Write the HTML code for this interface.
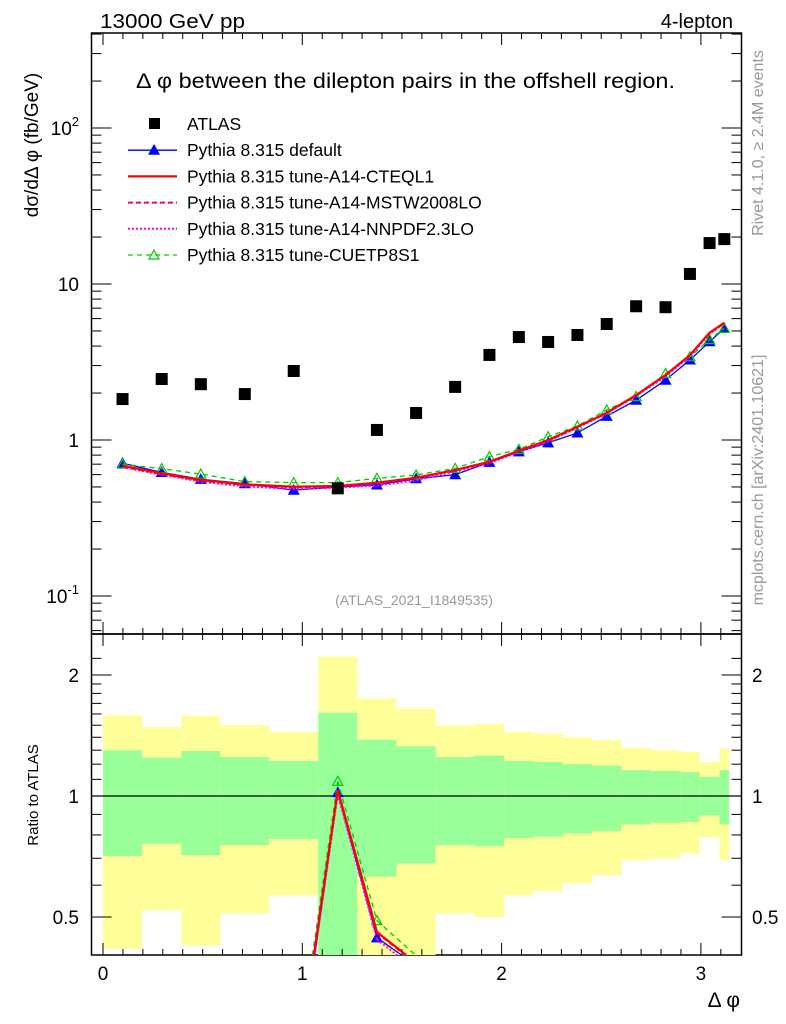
<!DOCTYPE html>
<html><head><meta charset="utf-8"><style>
html,body{margin:0;padding:0;background:#fff;width:786px;height:1024px;overflow:hidden;}
svg{display:block;font-family:"Liberation Sans",sans-serif;}
</style></head><body>
<svg id="c" width="786" height="1024" viewBox="0 0 786 1024">
<rect x="91.5" y="33" width="650" height="601" fill="none" stroke="#000" stroke-width="1.5"/>
<rect x="91.5" y="634" width="650" height="321" fill="none" stroke="#000" stroke-width="1.5"/>
<text x="100" y="28" font-size="20" textLength="145" lengthAdjust="spacingAndGlyphs">13000 GeV pp</text>
<text x="733" y="28" font-size="20" text-anchor="end">4-lepton</text>
<text x="136" y="88" font-size="21" textLength="539" lengthAdjust="spacingAndGlyphs">Δ φ between the dilepton pairs in the offshell region.</text>
<text transform="translate(38,145) rotate(-90)" font-size="19" text-anchor="middle">dσ/dΔ φ (fb/GeV)</text>
<text transform="translate(38,795) rotate(-90)" font-size="15" text-anchor="middle">Ratio to ATLAS</text>
<text x="740" y="1007" font-size="21" text-anchor="end">Δ φ</text>
<text transform="translate(763,143) rotate(-90)" font-size="16" fill="#999" text-anchor="middle">Rivet 4.1.0, ≥ 2.4M events</text>
<text transform="translate(763,480) rotate(-90)" font-size="16" fill="#999" text-anchor="middle">mcplots.cern.ch [arXiv:2401.10621]</text>
<text x="414" y="605" font-size="14" fill="#999" text-anchor="middle">(ATLAS_2021_I1849535)</text>
<g id="bands"></g><g id="axes"></g><g id="series"></g><g id="legend"></g>
</svg>
<script>
const edges=[0,0.196,0.393,0.589,0.834,1.08,1.276,1.473,1.669,1.865,2.013,2.16,2.307,2.454,2.601,2.749,2.896,2.994,3.093,3.142];
const atlas=[1.83,2.46,2.28,1.97,2.77,0.49,1.16,1.49,2.19,3.51,4.57,4.25,4.71,5.54,7.2,7.1,11.6,18.3,19.4];
const pyDefault=[0.71,0.62,0.56,0.525,0.477,0.5,0.515,0.565,0.6,0.72,0.84,0.96,1.11,1.42,1.80,2.42,3.26,4.27,5.19];
const pyCTEQ=[0.684,0.612,0.554,0.52,0.502,0.507,0.532,0.573,0.642,0.726,0.854,1.0,1.217,1.496,1.94,2.61,3.5,4.87,5.65];
const pyMSTW=[0.675,0.605,0.548,0.515,0.498,0.505,0.53,0.57,0.64,0.72,0.85,0.99,1.21,1.49,1.93,2.6,3.5,4.85,5.6];
const pyNNPDF=[0.67,0.6,0.54,0.505,0.485,0.495,0.51,0.55,0.63,0.71,0.84,0.98,1.2,1.48,1.92,2.55,3.45,4.8,5.6];
const pyCUETP=[0.70,0.655,0.605,0.541,0.533,0.533,0.568,0.597,0.658,0.782,0.871,1.05,1.23,1.56,1.90,2.67,3.42,4.41,5.19];
const yellowUp=[1.587,1.485,1.584,1.502,1.443,2.22,1.75,1.65,1.50,1.51,1.443,1.43,1.40,1.375,1.316,1.30,1.286,1.215,1.316];
const greenUp=[1.30,1.245,1.294,1.25,1.222,1.61,1.38,1.33,1.25,1.26,1.222,1.215,1.20,1.19,1.16,1.154,1.147,1.115,1.16];
const greenDn=[0.709,0.761,0.713,0.755,0.782,0.3,0.63,0.68,0.754,0.75,0.786,0.792,0.806,0.818,0.85,0.858,0.862,0.895,0.85];
const yellowDn=[0.417,0.52,0.425,0.51,0.566,0.3,0.3,0.3,0.51,0.5,0.566,0.58,0.607,0.635,0.693,0.70,0.72,0.79,0.693];
const xTicks=[0,1,2,3];
const yTicks=[0.1,1,10,100];
const rTicks=[0.5,1,2];

const NS="http://www.w3.org/2000/svg";
const L=91.5,R=741.5,T=33,M=634,B=955;
const X=v=>103+v*199.3;
const Y=v=>440-Math.log10(v)*156;
const RY=v=>796-Math.log2(v)*121;
function mk(p,tag,at){const e=document.createElementNS(NS,tag);for(const k in at)e.setAttribute(k,at[k]);p.appendChild(e);return e;}
const gB=document.getElementById('bands'),gA=document.getElementById('axes'),gS=document.getElementById('series'),gL=document.getElementById('legend');
const clampR=y=>Math.max(M,Math.min(B,y));
for(let i=0;i<edges.length-1;i++){
  const x0=X(edges[i]),x1=X(edges[i+1]);
  let e=mk(gB,'rect',{x:x0,y:clampR(RY(yellowUp[i])),width:x1-x0,height:clampR(RY(yellowDn[i]))-clampR(RY(yellowUp[i])),fill:'#ffff99'});
  
  
  e=mk(gB,'rect',{x:x0,y:clampR(RY(greenUp[i])),width:x1-x0,height:clampR(RY(greenDn[i]))-clampR(RY(greenUp[i])),fill:'#99ff99'});
  
  
}
let one=mk(gB,'line',{x1:L,x2:R,y1:RY(1),y2:RY(1),stroke:'#000','stroke-width':1.2});


for(let v=0;v<=3.2;v+=0.1){
  const vv=Math.round(v*10)/10,maj=Math.abs(vv-Math.round(vv))<1e-6,len=maj?12:6,x=X(vv);
  if(x>R)break;
  for(const [y0,d] of [[M,-1],[T,1],[B,-1],[M,1]]) mk(gA,'line',{x1:x,x2:x,y1:y0,y2:y0+d*len,stroke:'#000','stroke-width':1});
}
xTicks.forEach(v=>{const t=mk(gA,'text',{x:X(v),y:980,'font-size':19,'text-anchor':'middle'});t.textContent=v;
  
  });
for(let d=-2;d<=2;d++)for(let m=1;m<=9;m++){
  const v=m*Math.pow(10,d),y=Y(v);if(y<T||y>M)continue;
  const len=m==1?20:10;
  mk(gA,'line',{x1:L,x2:L+len,y1:y,y2:y,stroke:'#000'});mk(gA,'line',{x1:R,x2:R-len,y1:y,y2:y,stroke:'#000'});
}
yTicks.forEach(v=>{const t=mk(gA,'text',{x:79,y:Y(v)+7,'font-size':19,'text-anchor':'end'});
  if(v>=10&&v<100)t.textContent=v;else if(v==1)t.textContent='1';
  else{const e=Math.round(Math.log10(v));t.textContent='10';const s=mk(t,'tspan',{dy:-9,'font-size':13});s.textContent=e;}
  
  });
[0.4,0.5,0.6,0.7,0.8,0.9,1,1.1,1.2,1.3,1.4,1.5,1.6,1.7,1.8,1.9,2,2.2].forEach(v=>{
  const y=RY(v);if(y<M||y>B)return;const len=(v==0.5||v==1||v==2)?20:10;
  mk(gA,'line',{x1:L,x2:L+len,y1:y,y2:y,stroke:'#000'});mk(gA,'line',{x1:R,x2:R-len,y1:y,y2:y,stroke:'#000'});});
rTicks.forEach(v=>{for(const [x,a] of [[79,'end'],[752,'start']]){const t=mk(gA,'text',{x:x,y:RY(v)+7,'font-size':19,'text-anchor':a});t.textContent=v;
  
  }});
const cen=i=>(edges[i]+edges[i+1])/2;
// clip a polyline to y in [M,B] manually
function clippedPath(pts){
  let d='';
  for(let i=0;i<pts.length-1;i++){
    let [x0,y0]=pts[i],[x1,y1]=pts[i+1];
    const cl=(lim,below)=>{};
    // clip against bottom
    if(y0>B&&y1>B)continue;if(y0<M&&y1<M)continue;
    if(y0>B){x0=x0+(x1-x0)*(B-y0)/(y1-y0);y0=B;}
    if(y1>B){x1=x0+(x1-x0)*(B-y0)/(y1-y0);y1=B;}
    if(y0<M){x0=x0+(x1-x0)*(M-y0)/(y1-y0);y0=M;}
    if(y1<M){x1=x0+(x1-x0)*(M-y0)/(y1-y0);y1=M;}
    d+=`M${x0.toFixed(2)},${y0.toFixed(2)}L${x1.toFixed(2)},${y1.toFixed(2)}`;
  }
  return d||'M0,0';
}
const specs=[
 {d:pyDefault,c:'#0000ff',w:1.3,dash:'',mk:'tri',fill:'#0000ff',name:'pythia-default'},
 {d:pyCUETP,c:'#00cc00',w:1.3,dash:'5,4',mk:'tri',fill:'none',name:'pythia-cuetp8s1'},
 {d:pyNNPDF,c:'#ff00ff',w:2,dash:'2,2',mk:'',name:'pythia-nnpdf'},
 {d:pyMSTW,c:'#ff0066',w:2,dash:'5,3',mk:'',name:'pythia-mstw'},
 {d:pyCTEQ,c:'#ff0000',w:2.2,dash:'',mk:'',name:'pythia-cteql1'}];
function tri(g,x,y,s){return mk(g,'path',{d:`M${x},${y-5}L${x+5},${y+4}L${x-5},${y+4}Z`,fill:s.fill,stroke:s.c,'stroke-width':1.2});}
specs.forEach(s=>{
  const pts=s.d.map((v,i)=>X(cen(i))+','+Y(v)).join(' ');
  const pl=mk(gS,'polyline',{points:pts,fill:'none',stroke:s.c,'stroke-width':s.w,'stroke-dasharray':s.dash});
  
  
  const rpts=s.d.map((v,i)=>[X(cen(i)),RY(v/atlas[i])]);
  const rl=mk(gS,'path',{d:clippedPath(rpts),fill:'none',stroke:s.c,'stroke-width':s.w,'stroke-dasharray':s.dash});
  
  
  if(s.mk=='tri')s.d.forEach((v,i)=>{tri(gS,X(cen(i)),Y(v),s);const ry=RY(v/atlas[i]);if(ry>M+5&&ry<B-5)tri(gS,X(cen(i)),ry,s);});
});
atlas.forEach((v,i)=>{const r=mk(gS,'rect',{x:X(cen(i))-6,y:Y(v)-6,width:12,height:12,fill:'#000'});
  
  });
const leg=[['ATLAS',null],['Pythia 8.315 default',specs[0]],['Pythia 8.315 tune-A14-CTEQL1',specs[4]],['Pythia 8.315 tune-A14-MSTW2008LO',specs[3]],['Pythia 8.315 tune-A14-NNPDF2.3LO',specs[2]],['Pythia 8.315 tune-CUETP8S1',specs[1]]];
leg.forEach((l,i)=>{const y=124+i*26.2;const g=mk(gL,'g',{});
  
  
  if(!l[1])mk(g,'rect',{x:149,y:y-6,width:11,height:11,fill:'#000'});
  else{const s=l[1];mk(g,'line',{x1:128,x2:177,y1:y,y2:y,stroke:s.c,'stroke-width':s.w,'stroke-dasharray':s.dash});if(s.mk=='tri')tri(g,154,y,s);}
  const t=mk(g,'text',{x:187,y:y+6,'font-size':17.5});t.textContent=l[0];});
</script>
</body></html>
